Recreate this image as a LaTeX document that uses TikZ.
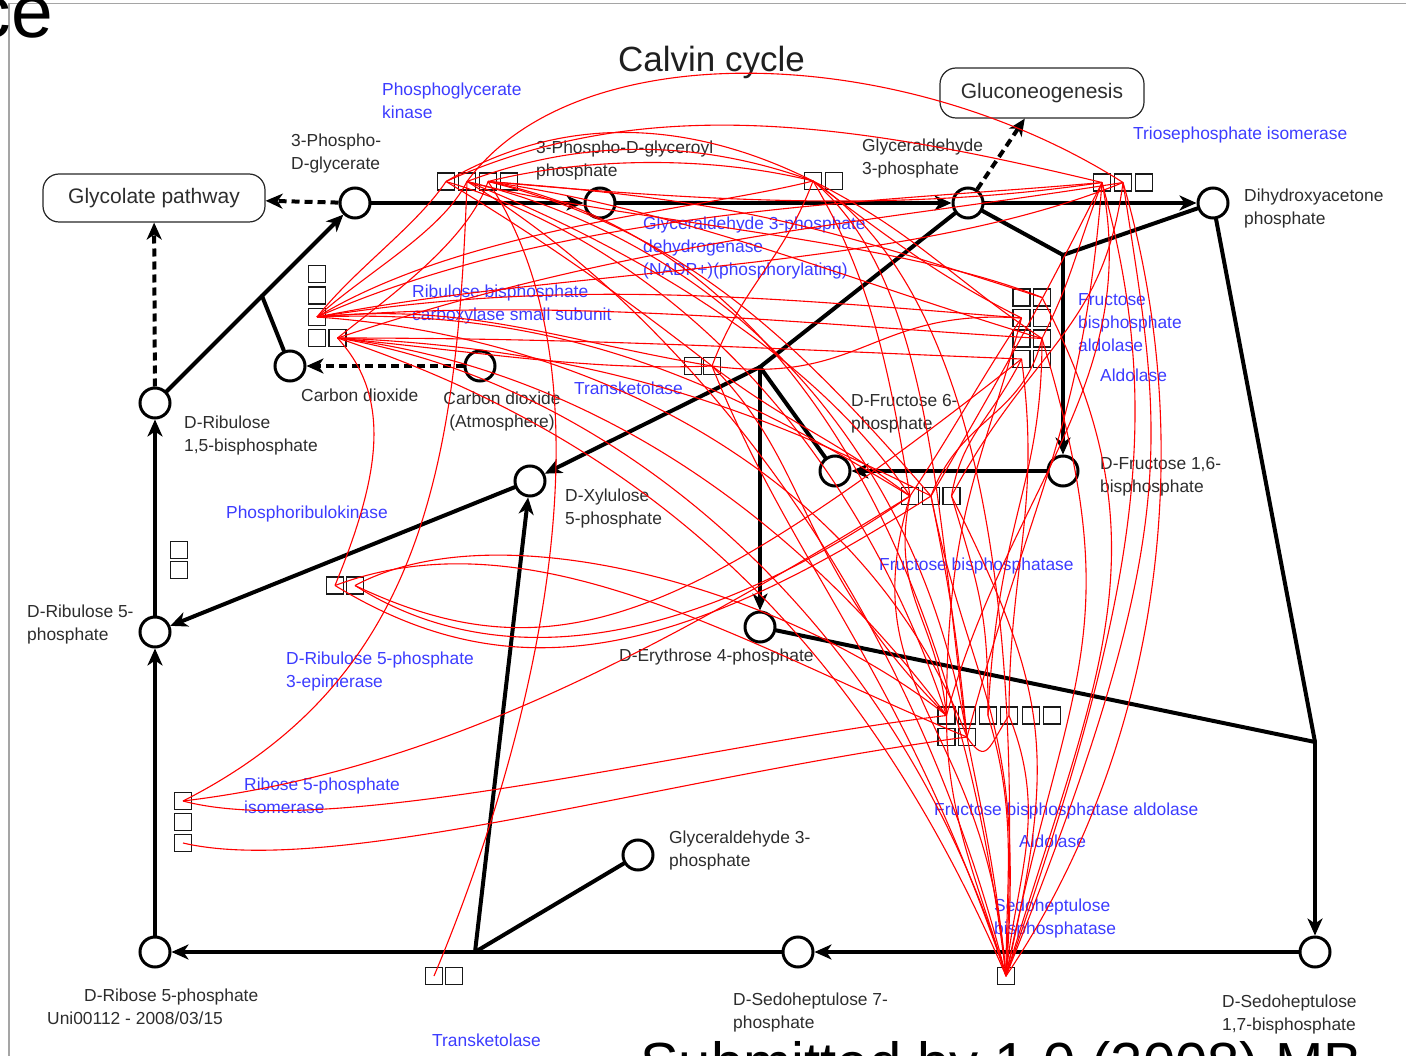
\documentclass[tikz,border=0pt]{standalone}
\usepackage{fontspec}
\setmainfont{Liberation Sans}
\usetikzlibrary{arrows.meta,calc}
\definecolor{lbl}{RGB}{45,45,45}
\definecolor{enz}{RGB}{60,60,255}
\definecolor{framegray}{RGB}{165,165,165}

\begin{document}
\begin{tikzpicture}[x=1pt,y=-1pt,
  met/.style={circle,draw=black,line width=3pt,minimum size=30pt,inner sep=0pt,fill=white},
  pbox/.style={draw=black!85,line width=1.2pt,rounded corners=16pt,inner sep=0pt,
    font=\fontsize{21}{24}\selectfont,text=lbl},
  ebox/.style={draw=black!90,line width=1.2pt,minimum size=17pt,inner sep=0pt},
  bline/.style={draw=black,line width=4pt,line cap=round,line join=round},
  rxn/.style={bline,-{Stealth[length=17pt,width=15pt,inset=5pt]}},
  dashrxn/.style={draw=black,line width=4pt,dash pattern=on 8pt off 5pt,
    -{Stealth[length=17pt,width=15pt,inset=5pt]}},
  lab/.style={text=lbl,font=\fontsize{17.4}{23}\selectfont,inner sep=0pt,align=left,anchor=base west},
  elab/.style={lab,text=enz},
  rl/.style={draw=red,line width=1.1pt}
]
\useasboundingbox (0,0) rectangle (1406,1056);
\clip (0,0) rectangle (1406,1056);

% page frame and cut-off page text
\draw[framegray,line width=1.2pt] (1406,3.5) -- (9,3.5) -- (9,1056);
\node[anchor=base east,inner sep=0pt,font=\fontsize{75}{80}\selectfont] (pagehead) at (53,38) {ce};
\node[anchor=base west,inner sep=0pt,font=\fontsize{58}{60}\selectfont] (pagefoot) at (640,1083) {Submitted by 1.0 (2008) MB};

% title and pathway boxes
\node[anchor=base west,inner sep=0pt,font=\fontsize{35}{40}\selectfont,text=black!88] (title) at (618,72) {Calvin cycle};
\node[pbox,minimum width=222pt,minimum height=48pt] (glyc) at (154,198) {Glycolate pathway};
\node[pbox,minimum width=204pt,minimum height=50pt] (gluco) at (1042,93) {Gluconeogenesis};

% metabolites
\node[met] (pga) at (355,203) {};
\node[met] (bpg) at (600,203) {};
\node[met] (gap) at (968,203) {};
\node[met] (dhap) at (1213,203) {};
\node[met] (rubp) at (155,403) {};
\node[met] (co2) at (290,366) {};
\node[met] (co2atm) at (480,366) {};
\node[met] (xu5p) at (530,481) {};
\node[met] (f6p) at (835,471) {};
\node[met] (fbp) at (1063,471) {};
\node[met] (ru5p) at (155,632) {};
\node[met] (e4p) at (760,627) {};
\node[met] (gapb) at (638,855) {};
\node[met] (r5p) at (155,952) {};
\node[met] (s7p) at (798,952) {};
\node[met] (sbp) at (1315,952) {};

% junctions
\coordinate (j1) at (1063,255);
\coordinate (j2) at (760,367);
\coordinate (j3) at (1315,742);
\coordinate (j4) at (475,952);
\coordinate (j5) at ($(rubp)!0.535!(pga)$);

% reactions
\draw[rxn] (pga) -- (bpg);
\draw[rxn] (bpg) -- (gap);
\draw[rxn] (gap) -- (dhap);
\draw[bline] (gap) -- (j1) -- (dhap);
\draw[rxn] (j1) -- (fbp);
\draw[bline] (gap) -- (j2);
\draw[rxn] (j2) -- (xu5p);
\draw[rxn] (j2) -- (e4p);
\draw[bline] (j2) -- (f6p);
\draw[rxn] (fbp) -- (f6p);
\draw[bline] (e4p) -- (j3);
\draw[bline] (dhap) -- (j3);
\draw[rxn] (j3) -- (sbp);
\draw[rxn] (sbp) -- (s7p);
\draw[rxn] (s7p) -- (r5p);
\draw[bline] (gapb) -- (j4);
\draw[rxn] (j4) -- (xu5p);
\draw[rxn] (r5p) -- (ru5p);
\draw[rxn] (xu5p) -- (ru5p);
\draw[rxn] (ru5p) -- (rubp);
\draw[rxn] (rubp) -- (pga);
\draw[bline] (co2) -- (j5);
\draw[dashrxn] (co2atm) -- (co2);
\draw[dashrxn] (rubp) -- (glyc);
\draw[dashrxn] (pga) -- (glyc);
\draw[dashrxn] (gap) -- (gluco);

% enzyme boxes
\node[ebox] (pgkb1) at (446,181.5) {};
\node[ebox] (pgkb2) at (467,181.5) {};
\node[ebox] (pgkb3) at (488,181.5) {};
\node[ebox] (pgkb4) at (509,181.5) {};
\node[ebox] (gapdhb1) at (813,181) {};
\node[ebox] (gapdhb2) at (834,181) {};
\node[ebox] (tpib1) at (1102,182.5) {};
\node[ebox] (tpib2) at (1123,182.5) {};
\node[ebox] (tpib3) at (1144,182.5) {};
\node[ebox] (rubb1) at (317,274) {};
\node[ebox] (rubb2) at (317,295.5) {};
\node[ebox] (rubb3) at (317,317) {};
\node[ebox] (rubb4) at (317,338) {};
\node[ebox] (rubb5) at (337.5,338) {};
\node[ebox] (tkb1) at (693,366) {};
\node[ebox] (tkb2) at (712,366) {};
\node[ebox] (prkb1) at (179,550) {};
\node[ebox] (prkb2) at (179,570) {};
\node[ebox] (rpeb1) at (335,585.5) {};
\node[ebox] (rpeb2) at (355,585.5) {};
\node[ebox] (aldb11) at (1021.5,297.5) {};
\node[ebox] (aldb12) at (1042,297.5) {};
\node[ebox] (aldb21) at (1021.5,318) {};
\node[ebox] (aldb22) at (1042,318) {};
\node[ebox] (aldb31) at (1021.5,338.5) {};
\node[ebox] (aldb32) at (1042,338.5) {};
\node[ebox] (aldb41) at (1021.5,359) {};
\node[ebox] (aldb42) at (1042,359) {};
\node[ebox] (fbpaseb1) at (910,496) {};
\node[ebox] (fbpaseb2) at (931,496) {};
\node[ebox] (fbpaseb3) at (951.5,496) {};
\node[ebox] (botb1) at (946.5,715.5) {};
\node[ebox] (botb2) at (967,715.5) {};
\node[ebox] (botb3) at (988,715.5) {};
\node[ebox] (botb4) at (1009,715.5) {};
\node[ebox] (botb5) at (1031,715.5) {};
\node[ebox] (botb6) at (1052,715.5) {};
\node[ebox] (botb7) at (946.5,737) {};
\node[ebox] (botb8) at (967,737) {};
\node[ebox] (rpib1) at (183,801) {};
\node[ebox] (rpib2) at (183,822) {};
\node[ebox] (rpib3) at (183,843) {};
\node[ebox] (tklb1) at (434,976) {};
\node[ebox] (tklb2) at (454,976) {};
\node[ebox] (sbpaseb) at (1006,976) {};

% metabolite labels (anchored at the baseline of the last line)
\node[lab] (lpga) at (291,170) {3-Phospho-\\D-glycerate};
\node[lab] (lbpg) at (536,177) {3-Phospho-D-glyceroyl\\phosphate};
\node[lab] (lgap) at (862,175) {Glyceraldehyde\\3-phosphate};
\node[lab] (ldhap) at (1244,225) {Dihydroxyacetone\\phosphate};
\node[lab] (lco2) at (301,402) {Carbon dioxide};
\node[lab,align=center,anchor=base] (lco2atm) at (502,428) {Carbon dioxide\\(Atmosphere)};
\node[lab] (lrubp) at (184,451) {D-Ribulose\\1,5-bisphosphate};
\node[lab] (lf6p) at (851,430) {D-Fructose 6-\\phosphate};
\node[lab] (lfbp) at (1100,492) {D-Fructose 1,6-\\bisphosphate};
\node[lab] (lxu5p) at (565,524) {D-Xylulose\\5-phosphate};
\node[lab] (lru5p) at (27,640) {D-Ribulose 5-\\phosphate};
\node[lab] (le4p) at (619,661) {D-Erythrose 4-phosphate};
\node[lab] (lgapb) at (669,866) {Glyceraldehyde 3-\\phosphate};
\node[lab] (lr5p) at (84,1001) {D-Ribose 5-phosphate};
\node[lab] (lid) at (47,1024) {Uni00112 - 2008/03/15};
\node[lab] (ls7p) at (733,1028) {D-Sedoheptulose 7-\\phosphate};
\node[lab] (lsbp) at (1222,1030) {D-Sedoheptulose\\1,7-bisphosphate};

% enzyme labels
\node[elab] (epgk) at (382,119) {Phosphoglycerate\\kinase};
\node[elab] (etpi) at (1133,140) {Triosephosphate isomerase};
\node[elab] (egapdh) at (643,276) {Glyceraldehyde 3-phosphate\\dehydrogenase\\(NADP+)(phosphorylating)};
\node[elab] (erub) at (412,321) {Ribulose bisphosphate\\carboxylase small subunit};
\node[elab] (efba) at (1078,352) {Fructose\\bisphosphate\\aldolase};
\node[elab] (eald) at (1100,382) {Aldolase};
\node[elab] (etk) at (574,395) {Transketolase};
\node[elab] (eprk) at (226,518) {Phosphoribulokinase};
\node[elab] (efbpase) at (879,570) {Fructose bisphosphatase};
\node[elab] (erpe) at (286,687) {D-Ribulose 5-phosphate\\3-epimerase};
\node[elab] (erpi) at (244,813) {Ribose 5-phosphate\\isomerase};
\node[elab] (efbpald) at (934,815) {Fructose bisphosphatase aldolase};
\node[elab] (ealdb) at (1019,847) {Aldolase};
\node[elab] (esbpase) at (994,934) {Sedoheptulose\\bisphosphatase};
\node[elab] (etkb) at (432,1046) {Transketolase};

% protein interaction links
\draw[rl] (pgkb2.center) .. controls +(110,-150) and +(-220,-140) .. (tpib2.center);
\draw[rl] (pgkb1.center) .. controls +(120,-70) and +(-120,-60) .. (gapdhb1.center);
\draw[rl] (pgkb2.center) .. controls +(120,-45) and +(-110,-40) .. (gapdhb1.center);
\draw[rl] (pgkb3.center) .. controls +(100,-25) and +(-100,-25) .. (gapdhb1.center);
\draw[rl] (pgkb1.center) .. controls +(200,-90) and +(-250,-60) .. (tpib1.center);

\draw[rl] (rubb3.center) .. controls +(40,-50) and +(-30,45) .. (pgkb1.center);
\draw[rl] (rubb3.center) .. controls +(50,-45) and +(-25,50) .. (pgkb2.center);
\draw[rl] (rubb5.center) .. controls +(50,-40) and +(-20,60) .. (pgkb3.center);
\draw[rl] (rubb3.center) .. controls +(150,-90) and +(-120,30) .. (gapdhb1.center);
\draw[rl] (rubb3.center) .. controls +(250,-110) and +(-220,20) .. (tpib1.center);
\draw[rl] (rubb5.center) .. controls +(300,-100) and +(-250,40) .. (tpib2.center);
\draw[rl] (rubb3.center) .. controls +(250,-40) and +(-250,-20) .. (aldb21.center);
\draw[rl] (rubb3.center) .. controls +(250,-20) and +(-250,-15) .. (aldb32.center);
\draw[rl] (rubb5.center) .. controls +(250,0) and +(-250,-10) .. (aldb41.center);
\draw[rl] (rubb3.center) .. controls +(250,-10) and +(-180,-110) .. (fbpaseb1.center);
\draw[rl] (rubb5.center) .. controls +(250,10) and +(-180,-90) .. (fbpaseb2.center);
\draw[rl] (rubb5.center) .. controls +(250,30) and +(-150,-200) .. (botb1.center);
\draw[rl] (rubb3.center) .. controls +(280,20) and +(-100,-260) .. (botb8.center);
\draw[rl] (rubb5.center) .. controls +(300,50) and +(-100,-330) .. (sbpaseb.center);
\draw[rl] (rubb3.center) .. controls +(150,-15) and +(-150,-25) .. (tkb2.center);
\draw[rl] (rubb5.center) .. controls +(150,15) and +(-120,5) .. (tkb2.center);
\draw[rl] (rubb5.center) .. controls +(55,60) and +(45,-110) .. (rpeb1.center);

\draw[rl] (pgkb2.center) .. controls +(150,40) and +(-150,-60) .. (aldb12.center);
\draw[rl] (pgkb3.center) .. controls +(200,30) and +(-200,-60) .. (aldb32.center);
\draw[rl] (pgkb2.center) .. controls +(150,60) and +(-100,-150) .. (fbpaseb1.center);
\draw[rl] (pgkb3.center) .. controls +(200,50) and +(-130,-150) .. (fbpaseb2.center);
\draw[rl] (pgkb1.center) .. controls +(200,60) and +(-100,-300) .. (botb1.center);
\draw[rl] (pgkb2.center) .. controls +(250,60) and +(-50,-300) .. (botb8.center);
\draw[rl] (pgkb3.center) .. controls +(300,60) and +(-50,-420) .. (sbpaseb.center);
\draw[rl] (pgkb2.center) .. controls +(-10,290) and +(237,-120) .. (rpib1.center);
\draw[rl] (pgkb3.center) .. controls +(132,198) and +(103,-245) .. (tklb1.center);
\draw[rl] (pgkb1.center) .. controls +(100,60) and +(-90,-70) .. (tkb2.center);

\draw[rl] (rpeb2.center) .. controls +(150,-80) and +(-150,-120) .. (botb1.center);
\draw[rl] (rpeb1.center) .. controls +(200,-75) and +(-220,-90) .. (botb8.center);
\draw[rl] (rpeb2.center) .. controls +(150,95) and +(-210,146) .. (fbpaseb1.center);
\draw[rl] (rpeb1.center) .. controls +(180,110) and +(-250,160) .. (fbpaseb2.center);
\draw[rl] (rpeb2.center) .. controls +(200,95) and +(-330,260) .. (aldb41.center);

\draw[rl] (rpib1.center) .. controls +(250,-30) and +(-260,160) .. (fbpaseb1.center);
\draw[rl] (rpib1.center) .. controls +(150,40) and +(-250,30) .. (botb1.center);
\draw[rl] (rpib3.center) .. controls +(150,35) and +(-300,40) .. (botb8.center);

\draw[rl] (tpib1.center) .. controls +(-30,80) and +(30,-60) .. (aldb32.center);
\draw[rl] (tpib1.center) .. controls +(-60,120) and +(70,-120) .. (fbpaseb2.center);
\draw[rl] (tpib2.center) .. controls +(78,269) and +(152,-225) .. (sbpaseb.center);
\draw[rl] (tpib1.center) .. controls +(40,200) and +(60,-220) .. (botb1.center);
\draw[rl] (tpib2.center) .. controls +(-220,90) and +(250,-50) .. (rubb3.center);
\draw[rl] (tpib1.center) .. controls +(-200,30) and +(220,20) .. (pgkb3.center);
\draw[rl] (tpib1.center) .. controls +(-20,250) and +(70,-260) .. (botb8.center);
\draw[rl] (tpib2.center) .. controls +(-20,150) and +(80,-150) .. (fbpaseb3.center);

\draw[rl] (gapdhb1.center) .. controls +(80,60) and +(-80,-40) .. (aldb21.center);
\draw[rl] (gapdhb1.center) .. controls +(100,50) and +(-90,-60) .. (aldb32.center);
\draw[rl] (gapdhb1.center) .. controls +(60,100) and +(-20,-120) .. (fbpaseb1.center);
\draw[rl] (gapdhb1.center) .. controls +(120,100) and +(-30,-220) .. (botb8.center);
\draw[rl] (gapdhb1.center) .. controls +(150,100) and +(20,-420) .. (sbpaseb.center);
\draw[rl] (gapdhb1.center) .. controls +(-30,80) and +(30,-80) .. (tkb2.center);

\draw[rl] (aldb21.center) .. controls +(-40,60) and +(40,-60) .. (fbpaseb1.center);
\draw[rl] (aldb32.center) .. controls +(-20,80) and +(30,-80) .. (fbpaseb2.center);
\draw[rl] (aldb41.center) .. controls +(-30,60) and +(10,-60) .. (fbpaseb3.center);
\draw[rl] (aldb21.center) .. controls +(-40,150) and +(0,-200) .. (botb1.center);
\draw[rl] (aldb32.center) .. controls +(0,150) and +(10,-200) .. (botb3.center);
\draw[rl] (aldb41.center) .. controls +(20,150) and +(0,-150) .. (botb4.center);
\draw[rl] (aldb12.center) .. controls +(130,250) and +(90,-300) .. (sbpaseb.center);
\draw[rl] (aldb32.center) .. controls +(90,300) and +(60,-300) .. (sbpaseb.center);
\draw[rl] (aldb21.center) .. controls +(-150,-10) and +(150,20) .. (tkb2.center);
\draw[rl] (aldb12.center) .. controls +(-220,-70) and +(260,20) .. (pgkb3.center);

\draw[rl] (fbpaseb1.center) .. controls +(-20,100) and +(-10,-100) .. (botb1.center);
\draw[rl] (fbpaseb2.center) .. controls +(20,100) and +(-10,-100) .. (botb8.center);
\draw[rl] (fbpaseb3.center) .. controls +(30,100) and +(0,-100) .. (botb3.center);
\draw[rl] (fbpaseb1.center) .. controls +(-60,200) and +(-20,-260) .. (sbpaseb.center);
\draw[rl] (fbpaseb2.center) .. controls +(40,200) and +(20,-260) .. (sbpaseb.center);
\draw[rl] (fbpaseb3.center) .. controls +(100,200) and +(50,-220) .. (sbpaseb.center);
\draw[rl] (fbpaseb1.center) .. controls +(-80,-60) and +(80,60) .. (tkb2.center);

\draw[rl] (botb1.center) .. controls +(0,100) and +(-30,-100) .. (sbpaseb.center);
\draw[rl] (botb8.center) .. controls +(20,100) and +(-10,-100) .. (sbpaseb.center);
\draw[rl] (botb3.center) .. controls +(30,100) and +(0,-100) .. (sbpaseb.center);
\draw[rl] (botb4.center) .. controls +(40,100) and +(10,-100) .. (sbpaseb.center);
\draw[rl] (botb8.center) .. controls +(20,30) and +(-20,30) .. (botb4.center);
\draw[rl] (botb1.center) .. controls +(-150,-150) and +(100,100) .. (tkb2.center);

\draw[rl] (sbpaseb.center) .. controls +(-100,-300) and +(80,200) .. (tkb2.center);
\draw[rl] (sbpaseb.center) .. controls +(-150,-350) and +(300,100) .. (rubb5.center);
\draw[rl] (sbpaseb.center) .. controls +(-100,-400) and +(200,120) .. (pgkb2.center);
\draw[rl] (sbpaseb.center) .. controls +(140,-400) and +(60,220) .. (tpib1.center);
\draw[rl] (sbpaseb.center) .. controls +(180,-450) and +(40,260) .. (tpib2.center);
\end{tikzpicture}
\end{document}
